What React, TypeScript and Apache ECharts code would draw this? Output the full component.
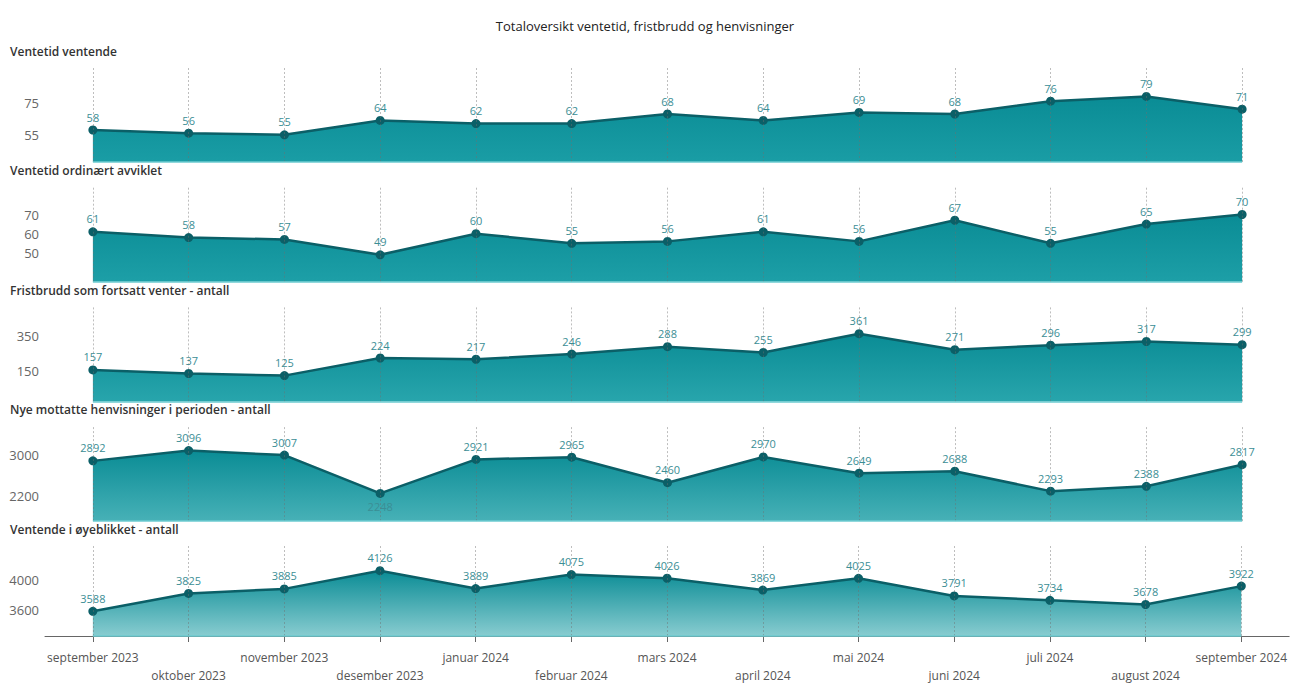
import React, { useEffect, useRef } from "react";
import * as echarts from "echarts";

// Months on the shared x-axis
const months = [
  "september 2023", "oktober 2023", "november 2023", "desember 2023",
  "januar 2024", "februar 2024", "mars 2024", "april 2024", "mai 2024",
  "juni 2024", "juli 2024", "august 2024", "september 2024",
];

// One series per panel
const ventetidVentende = [58, 56, 55, 64, 62, 62, 68, 64, 69, 68, 76, 79, 71];
const ventetidAvviklet = [61, 58, 57, 49, 60, 55, 56, 61, 56, 67, 55, 65, 70];
const fristbrudd = [157, 137, 125, 224, 217, 246, 288, 255, 361, 271, 296, 317, 299];
const henvisninger = [2892, 3096, 3007, 2248, 2921, 2965, 2460, 2970, 2649, 2688, 2293, 2388, 2817];
const ventende = [3588, 3825, 3885, 4126, 3889, 4075, 4026, 3869, 4025, 3791, 3734, 3678, 3922];

const panelTitles = [
  "Ventetid ventende",
  "Ventetid ordinært avviklet",
  "Fristbrudd som fortsatt venter - antall",
  "Nye mottatte henvisninger i perioden - antall",
  "Ventende i øyeblikket - antall",
];

// Y-axis tick labels shown in each panel
const yTicks = [
  [55, 75],
  [50, 60, 70],
  [150, 350],
  [2200, 3000],
  [3600, 4000],
];

const chartTitle = "Totaloversikt ventetid, fristbrudd og henvisninger";

const panelSeries = [ventetidVentende, ventetidAvviklet, fristbrudd, henvisninger, ventende];

// Axis ranges per panel
const yRanges: [number, number][] = [
  [38, 98],
  [35, 85],
  [-20, 520],
  [1700, 3600],
  [3260, 4470],
];

// Points whose value label sits below the marker
const labelsBelow: number[][] = [[], [], [], [3], []];

const areaBottoms = ["#1a9da5", "#1d9fa7", "#28a5ac", "#47b1b7", "#88ccd0"];

const FONT = "'Open Sans', 'Noto Sans', sans-serif";
const LINE = "#0b5f67";

export default function App() {
  const ref = useRef<HTMLDivElement>(null);

  useEffect(() => {
    if (!ref.current) return;
    const chart = echarts.init(ref.current, undefined, { renderer: "svg" });

    const gridTop = (i: number) => 66 + 119.7 * i;
    const gridH = 96;

    const titles: any[] = [
      {
        text: chartTitle,
        left: "center",
        top: 19,
        padding: 0,
        textStyle: { fontFamily: FONT, fontSize: 13, fontWeight: 400, color: "#222" },
      },
      ...panelTitles.map((t, i) => ({
        text: t,
        left: 10,
        top: 45 + 119.6 * i,
        padding: 0,
        textStyle: { fontFamily: FONT, fontSize: 12, fontWeight: 600, color: "#333" },
      })),
    ];

    const grids = panelSeries.map((_, i) => ({
      left: 45,
      right: 0,
      top: gridTop(i),
      height: gridH,
      containLabel: false,
    }));

    const xAxes = panelSeries.map((_, i) => {
      const last = i === panelSeries.length - 1;
      return {
        type: "category",
        gridIndex: i,
        data: months,
        boundaryGap: true,
        axisLine: { show: last, lineStyle: { color: "#666", width: 1 } },
        axisTick: { show: last, alignWithLabel: true, length: 6, lineStyle: { color: "#666" } },
        axisLabel: {
          show: last,
          interval: 0,
          hideOverlap: false,
          margin: 12,
          color: "#555",
          fontFamily: FONT,
          fontSize: 12,
          lineHeight: 18,
          formatter: (v: string, idx: number) => (idx % 2 === 1 ? "\n" + v : v),
        },
        splitLine: { show: false },
      };
    });

    const yAxes = panelSeries.map((_, i) => ({
      type: "value",
      gridIndex: i,
      min: yRanges[i][0],
      max: yRanges[i][1],
      axisLine: { show: false },
      axisTick: { show: false },
      splitLine: { show: false },
      axisLabel: {
        customValues: yTicks[i],
        formatter: (v: number) => String(v),
        color: "#666",
        fontFamily: FONT,
        fontSize: 13,
        margin: 6,
      },
    }));

    const series = panelSeries.map((vals, i) => ({
      type: "line",
      xAxisIndex: i,
      yAxisIndex: i,
      data: vals.map((v, j) =>
        labelsBelow[i].includes(j) ? { value: v, label: { position: "bottom" } } : v
      ),
      symbol: "circle",
      symbolSize: 9,
      lineStyle: { color: LINE, width: 2.5 },
      itemStyle: { color: LINE },
      areaStyle: {
        origin: "start",
        opacity: 1,
        color: new echarts.graphic.LinearGradient(0, 0, 0, 1, [
          { offset: 0, color: "#0a8c95" },
          { offset: 1, color: areaBottoms[i] },
        ]),
      },
      label: {
        show: true,
        position: "top",
        distance: 3,
        color: "#3b8e95",
        fontFamily: FONT,
        fontSize: 11,
      },
      markLine: {
        silent: true,
        symbol: ["none", "none"],
        label: { show: false },
        data: [
          ...months.map((m) => ({
            xAxis: m,
            lineStyle: { type: [2, 2], color: "rgba(110,110,110,0.45)", width: 1 },
          })),
          [
            { coord: [months[0], yRanges[i][0]], lineStyle: { type: "solid", color: "#6ccbd0", width: 1.5 } },
            { coord: [months[months.length - 1], yRanges[i][0]] },
          ],
        ],
      },
    }));

    chart.setOption({
      animation: false,
      backgroundColor: "#fff",
      title: titles,
      grid: grids,
      xAxis: xAxes,
      yAxis: yAxes,
      series,
    });

    return () => chart.dispose();
  }, []);

  return (
    <div
      ref={ref}
      style={{ position: "absolute", left: 0, top: 0, width: 1290, height: 684 }}
    />
  );
}
